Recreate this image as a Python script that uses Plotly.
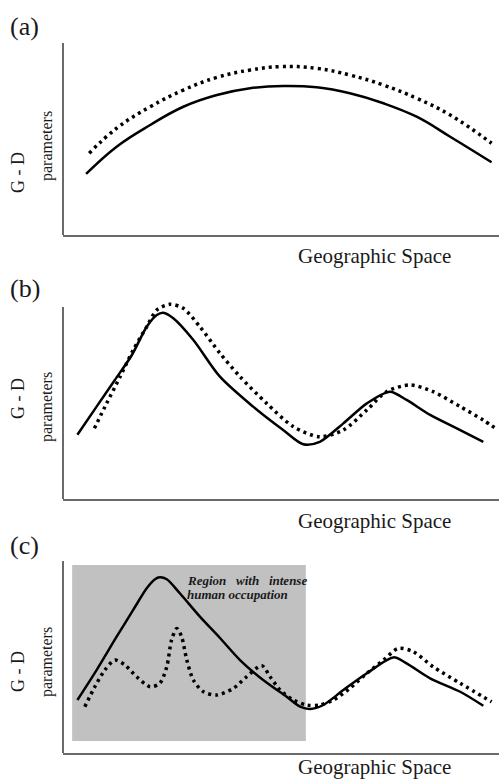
import plotly.graph_objects as go

# ---------------- data (x: geographic position 0-100, y: G-D parameter 0-100) ----------------
a_solid_x = [5.3, 12.3, 20.0, 27.6, 35.3, 42.9, 50.5, 58.2, 65.8, 73.5, 81.1, 88.8, 98.3]
a_solid_y = [31.8, 46.0, 57.3, 66.8, 72.9, 76.4, 77.6, 76.9, 73.8, 68.6, 61.6, 51.2, 37.9]
a_dot_x = [6.0, 12.3, 20.0, 27.6, 35.3, 42.9, 49.8, 58.2, 65.8, 73.5, 81.1, 88.8, 98.3]
a_dot_y = [42.6, 55.6, 66.8, 75.5, 82.1, 85.9, 87.7, 86.8, 83.3, 78.1, 71.2, 62.5, 47.8]

b_solid_x = [3.3, 7.7, 11.9, 15.8, 19.2, 21.5, 23.0, 25.3, 29.9, 36.0, 43.6, 50.5, 55.1,
             58.9, 64.3, 69.7, 75.0, 78.8, 84.2, 91.1, 96.4]
b_solid_y = [33.5, 48.1, 62.0, 75.0, 89.7, 95.8, 97.0, 94.1, 82.8, 63.7, 48.1, 35.9, 28.5,
             29.8, 39.4, 49.8, 55.9, 51.6, 43.8, 35.9, 29.8]
b_dot_x = [7.2, 10.0, 13.1, 16.1, 19.2, 21.5, 24.5, 27.6, 31.4, 36.0, 40.6, 46.7, 52.8,
           58.9, 64.3, 69.7, 74.2, 79.6, 84.9, 91.1, 96.4, 99.8]
b_dot_y = [36.8, 49.8, 63.7, 77.6, 89.7, 98.4, 101.4, 99.3, 89.7, 75.9, 63.7, 49.8, 37.7,
           32.4, 35.9, 46.4, 55.9, 59.4, 55.9, 48.1, 41.1, 35.9]

c_solid_x = [3.3, 7.7, 12.3, 16.1, 19.2, 21.1, 22.2, 23.8, 26.8, 31.4, 36.0, 40.6, 45.9,
             51.3, 54.4, 56.7, 59.7, 64.3, 69.7, 75.8, 78.8, 84.2, 91.1, 96.4]
c_solid_y = [27.6, 43.2, 60.6, 74.5, 85.8, 90.5, 91.5, 90.5, 83.2, 71.0, 59.9, 48.4, 38.0,
             29.3, 24.1, 22.9, 25.0, 32.8, 41.5, 49.8, 46.7, 38.9, 31.9, 24.6]
c_dot_x = [5.0, 7.3, 9.6, 11.9, 14.2, 16.9, 20.0, 22.2, 23.8, 24.9, 26.1, 27.2, 28.4, 29.9,
           32.2, 35.3, 39.1, 42.1, 45.6, 47.5, 49.8, 52.8, 55.9, 58.9, 62.0, 65.8, 69.7,
           73.5, 76.9, 80.3, 84.9, 91.1, 98.3]
c_dot_y = [24.1, 34.5, 43.2, 48.4, 45.8, 39.7, 34.5, 36.3, 44.9, 58.9, 64.9, 60.6, 48.4, 38.0,
           31.9, 30.2, 33.7, 39.7, 45.5, 39.7, 32.8, 27.6, 25.0, 25.0, 27.6, 33.7, 41.5,
           48.4, 54.5, 52.8, 44.9, 36.3, 26.7]

region_x = [2.1, 55.7]
region_y = [6.25, 97.9]
region_lines = ["Region\u00a0\u00a0 with\u00a0\u00a0 intense", "human occupation"]

panel_labels = ["(a)", "(b)", "(c)"]
x_title = "Geographic Space"
y_title_1 = "G - D"
y_title_2 = "parameters"

# ---------------- layout geometry ----------------
W, H = 499, 779
FONT = "Liberation Serif, Times New Roman, serif"
AXC = "#6a6a6a"
TXT = "#1a1a1a"


def py(p):
    return 1 - p / H


# axis bottom pixel for each panel; y range 0..106 spans 1.92 px per unit
bottoms = [235, 499, 753]
YMAX = 106
doms = [[py(b), py(b - YMAX * 1.92)] for b in bottoms]

fig = go.Figure()

series = [
    (a_solid_x, a_solid_y, a_dot_x, a_dot_y),
    (b_solid_x, b_solid_y, b_dot_x, b_dot_y),
    (c_solid_x, c_solid_y, c_dot_x, c_dot_y),
]

shapes = []
annotations = []

for i, (sx, sy, dx, dy) in enumerate(series):
    n = "" if i == 0 else str(i + 1)
    xa, ya = "x" + n, "y" + n
    sm = 1.2 if i == 0 else 0.8
    fig.add_trace(go.Scatter(x=dx, y=dy, mode="lines", xaxis=xa, yaxis=ya,
                             line=dict(color="black", width=3.5, dash="3px,4px", shape="spline",
                                       smoothing=sm),
                             showlegend=False, hoverinfo="skip"))
    fig.add_trace(go.Scatter(x=sx, y=sy, mode="lines", xaxis=xa, yaxis=ya,
                             line=dict(color="black", width=2.5, shape="spline", smoothing=sm),
                             showlegend=False, hoverinfo="skip"))
    ax = dict(domain=[63 / W, 1], range=[0, 100], showgrid=False, zeroline=False,
              showticklabels=False, ticks="", showline=True, linecolor=AXC, linewidth=2,
              fixedrange=True, anchor=ya)
    ay = dict(domain=doms[i], range=[0, YMAX], showgrid=False, zeroline=False,
              showticklabels=False, ticks="", showline=False, fixedrange=True,
              anchor=xa)
    fig.update_layout({("xaxis" + n): ax, ("yaxis" + n): ay})
    # y axis line from 0 to 100
    shapes.append(dict(type="line", xref=xa + " domain", yref=ya, x0=0, x1=0, y0=0, y1=100,
                       line=dict(color=AXC, width=2), layer="above"))

# grey region in panel (c)
shapes.append(dict(type="rect", xref="x3", yref="y3", x0=region_x[0], x1=region_x[1],
                   y0=region_y[0], y1=region_y[1], fillcolor="#c1c1c1",
                   line=dict(width=0), layer="below"))

# panel labels
label_y = [27, 288, 545]
for lab, yy in zip(panel_labels, label_y):
    annotations.append(dict(text=lab, xref="paper", yref="paper", x=8 / W, y=py(yy),
                            xanchor="left", yanchor="middle", showarrow=False,
                            font=dict(family=FONT, size=26, color=TXT)))

# x titles
xt_y = [256, 521, 767]
for yy in xt_y:
    annotations.append(dict(text=x_title, xref="paper", yref="paper", x=374 / W, y=py(yy),
                            xanchor="center", yanchor="middle", showarrow=False,
                            font=dict(family=FONT, size=21, color=TXT)))

# y titles
gd_y = [173, 399, 672]
par_y = [146, 407, 662]
for g, p in zip(gd_y, par_y):
    annotations.append(dict(text=y_title_1, xref="paper", yref="paper", x=18 / W, y=py(g),
                            xanchor="center", yanchor="middle", textangle=-90, showarrow=False,
                            font=dict(family=FONT, size=18, color=TXT)))
    annotations.append(dict(text=y_title_2, xref="paper", yref="paper", x=47 / W, y=py(p),
                            xanchor="center", yanchor="middle", textangle=-90, showarrow=False,
                            font=dict(family=FONT, size=16, color=TXT)))

# region annotation text (panel c)
for txt, yy in zip(region_lines, [90.1, 82.3]):
    annotations.append(dict(text="<b><i>" + txt + "</i></b>", xref="x3", yref="y3",
                            x=28.0, y=yy, xanchor="left", yanchor="middle", showarrow=False,
                            font=dict(family=FONT, size=13, color=TXT)))

fig.update_layout(width=W, height=H, margin=dict(l=0, r=0, t=0, b=0),
                  paper_bgcolor="white", plot_bgcolor="white",
                  shapes=shapes, annotations=annotations, showlegend=False)

fig.write_html("out.html", config={"displayModeBar": False},
               post_script="document.body.style.margin='0';document.body.style.padding='0';"
                           "document.documentElement.style.overflow='hidden';")
